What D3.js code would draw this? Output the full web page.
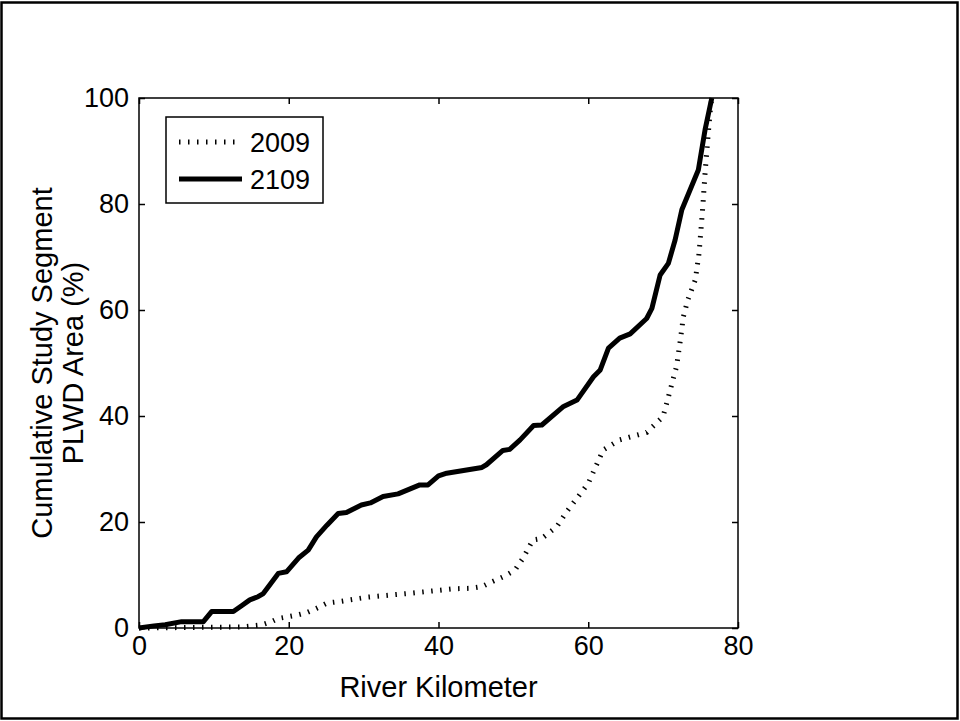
<!DOCTYPE html>
<html>
<head>
<meta charset="utf-8">
<script src="https://cdn.jsdelivr.net/npm/d3@7"></script>
<style>
  body { margin: 0; background: #fff; }
  svg { display: block; font-family: "Liberation Sans", Arial, sans-serif; }
  .tick text { font-size: 27px; fill: #000; }
  .tick line { stroke: #000; stroke-width: 1.5; }
  .axis-label { font-size: 29px; fill: #000; }
</style>
</head>
<body>
<svg id="chart" width="960" height="721"></svg>
<script>
// River kilometre vs cumulative PLWD area (%)
const km2009 = [0, 13.7, 16.4, 17.7, 18.6, 19.8, 21.3, 22.4, 23.7, 25.1, 26.8, 30.4, 31.9, 35.8, 39.3, 42,
  44.4, 45.8, 47.1, 48.7, 50.2, 51.3, 52.6, 53.8, 54.7, 55.8, 57.1, 58.5, 60, 62, 64.2, 67.8, 70, 70.7,
  71.8, 72.3, 72.7, 73.3, 74.3, 74.8, 75.3, 75.6, 75.95, 76.3, 76.5];
const area2009 = [0, 0.2, 0.6, 1.2, 1.8, 2.1, 2.5, 2.9, 3.7, 4.7, 5.0, 5.8, 6.0, 6.5, 7.0, 7.4,
  7.5, 7.8, 8.7, 9.7, 10.9, 13.2, 16.6, 16.9, 17.9, 19.1, 21.9, 24.5, 27.3, 33.6, 35.5, 36.9, 39.9, 43.6,
  49.4, 54.3, 58.7, 61.9, 65.7, 70.7, 79.5, 85.8, 92, 97.7, 100];

const km2109 = [0, 2, 3.5, 5.7, 8.6, 9.7, 12.6, 13.7, 14.8, 15.9, 16.6, 18.6, 19.7, 21.3, 22.6, 23.7,
  25.1, 26.6, 27.7, 29.7, 30.9, 32.6, 34.6, 37.5, 38.6, 40, 41.1, 45.8, 46.4, 48.6, 49.5, 50.9, 52.7,
  53.8, 56.7, 58.5, 60.7, 61.6, 62.7, 64.2, 65.6, 67.8, 68.5, 69.6, 70.7, 71.6, 72.5, 74.7, 75.6, 76.5];
const area2109 = [0, 0.4, 0.6, 1.2, 1.2, 3.1, 3.1, 4.2, 5.3, 5.9, 6.5, 10.3, 10.6, 13.2, 14.7, 17.2,
  19.4, 21.6, 21.8, 23.2, 23.6, 24.8, 25.3, 27, 27, 28.7, 29.2, 30.3, 30.8, 33.5, 33.7, 35.5, 38.2,
  38.3, 41.8, 43, 47.4, 48.7, 52.8, 54.7, 55.5, 58.4, 60.3, 66.6, 68.8, 73.2, 78.9, 86.4, 94, 100];

const xTicks = [0, 20, 40, 60, 80];
const yTicks = [0, 20, 40, 60, 80, 100];
const seriesNames = ['2009', '2109'];

const svg = d3.select('#chart');

// frame around the whole picture
svg.append('rect')
  .attr('x', 1.5).attr('y', 2.5).attr('width', 956).attr('height', 716)
  .attr('fill', 'none').attr('stroke', '#000').attr('stroke-width', 2.5);

const plot = { left: 139, right: 738, top: 98, bottom: 628 };
const x = d3.scaleLinear().domain([0, 80]).range([plot.left, plot.right]);
const y = d3.scaleLinear().domain([0, 100]).range([plot.bottom, plot.top]);

// axes, ticks pointing in (matlab style)
svg.append('g')
  .attr('transform', `translate(0,${plot.bottom})`)
  .call(d3.axisBottom(x).tickValues(xTicks).tickSizeInner(-6).tickSizeOuter(0).tickPadding(8))
  .call(g => g.select('.domain').remove());
svg.append('g')
  .attr('transform', `translate(0,${plot.top})`)
  .call(d3.axisTop(x).tickValues(xTicks).tickSizeInner(-6).tickSizeOuter(0).tickFormat(''))
  .call(g => g.select('.domain').remove());
svg.append('g')
  .attr('transform', `translate(${plot.left},0)`)
  .call(d3.axisLeft(y).tickValues(yTicks).tickSizeInner(-6).tickSizeOuter(0).tickPadding(10))
  .call(g => g.select('.domain').remove());
svg.append('g')
  .attr('transform', `translate(${plot.right},0)`)
  .call(d3.axisRight(y).tickValues(yTicks).tickSizeInner(-6).tickSizeOuter(0).tickFormat(''))
  .call(g => g.select('.domain').remove());

svg.append('rect')
  .attr('x', plot.left).attr('y', plot.top)
  .attr('width', plot.right - plot.left).attr('height', plot.bottom - plot.top)
  .attr('fill', 'none').attr('stroke', '#000').attr('stroke-width', 1.5);

// lines
const line = d3.line().x(d => x(d[0])).y(d => y(d[1]));

svg.append('path')
  .datum(d3.zip(km2009, area2009))
  .attr('d', line)
  .attr('fill', 'none').attr('stroke', '#000')
  .attr('stroke-width', 5).attr('stroke-dasharray', '1.5,7.5');

svg.append('path')
  .datum(d3.zip(km2109, area2109))
  .attr('d', line)
  .attr('fill', 'none').attr('stroke', '#000')
  .attr('stroke-width', 5).attr('stroke-linejoin', 'round');

// axis labels
svg.append('text')
  .attr('class', 'axis-label')
  .attr('x', (plot.left + plot.right) / 2).attr('y', 697)
  .attr('text-anchor', 'middle')
  .text('River Kilometer');

const yl = svg.append('text')
  .attr('class', 'axis-label')
  .attr('transform', `translate(52,${(plot.top + plot.bottom) / 2}) rotate(-90)`)
  .attr('text-anchor', 'middle');
yl.append('tspan').attr('x', 0).attr('dy', 0).text('Cumulative Study Segment');
yl.append('tspan').attr('x', 0).attr('dy', 31).text('PLWD Area (%)');

// legend
const legend = svg.append('g').attr('transform', 'translate(166,117)');
legend.append('rect')
  .attr('width', 157).attr('height', 86)
  .attr('fill', '#fff').attr('stroke', '#000').attr('stroke-width', 1.5);

seriesNames.forEach((name, i) => {
  const ly = 25 + i * 37;
  legend.append('line')
    .attr('x1', 13).attr('x2', 76).attr('y1', ly).attr('y2', ly)
    .attr('stroke', '#000').attr('stroke-width', i === 0 ? 5 : 5)
    .attr('stroke-dasharray', i === 0 ? '1.5,7.5' : null);
  legend.append('text')
    .attr('x', 84).attr('y', ly + 10)
    .style('font-size', '27px')
    .text(name);
});
</script>
</body>
</html>
